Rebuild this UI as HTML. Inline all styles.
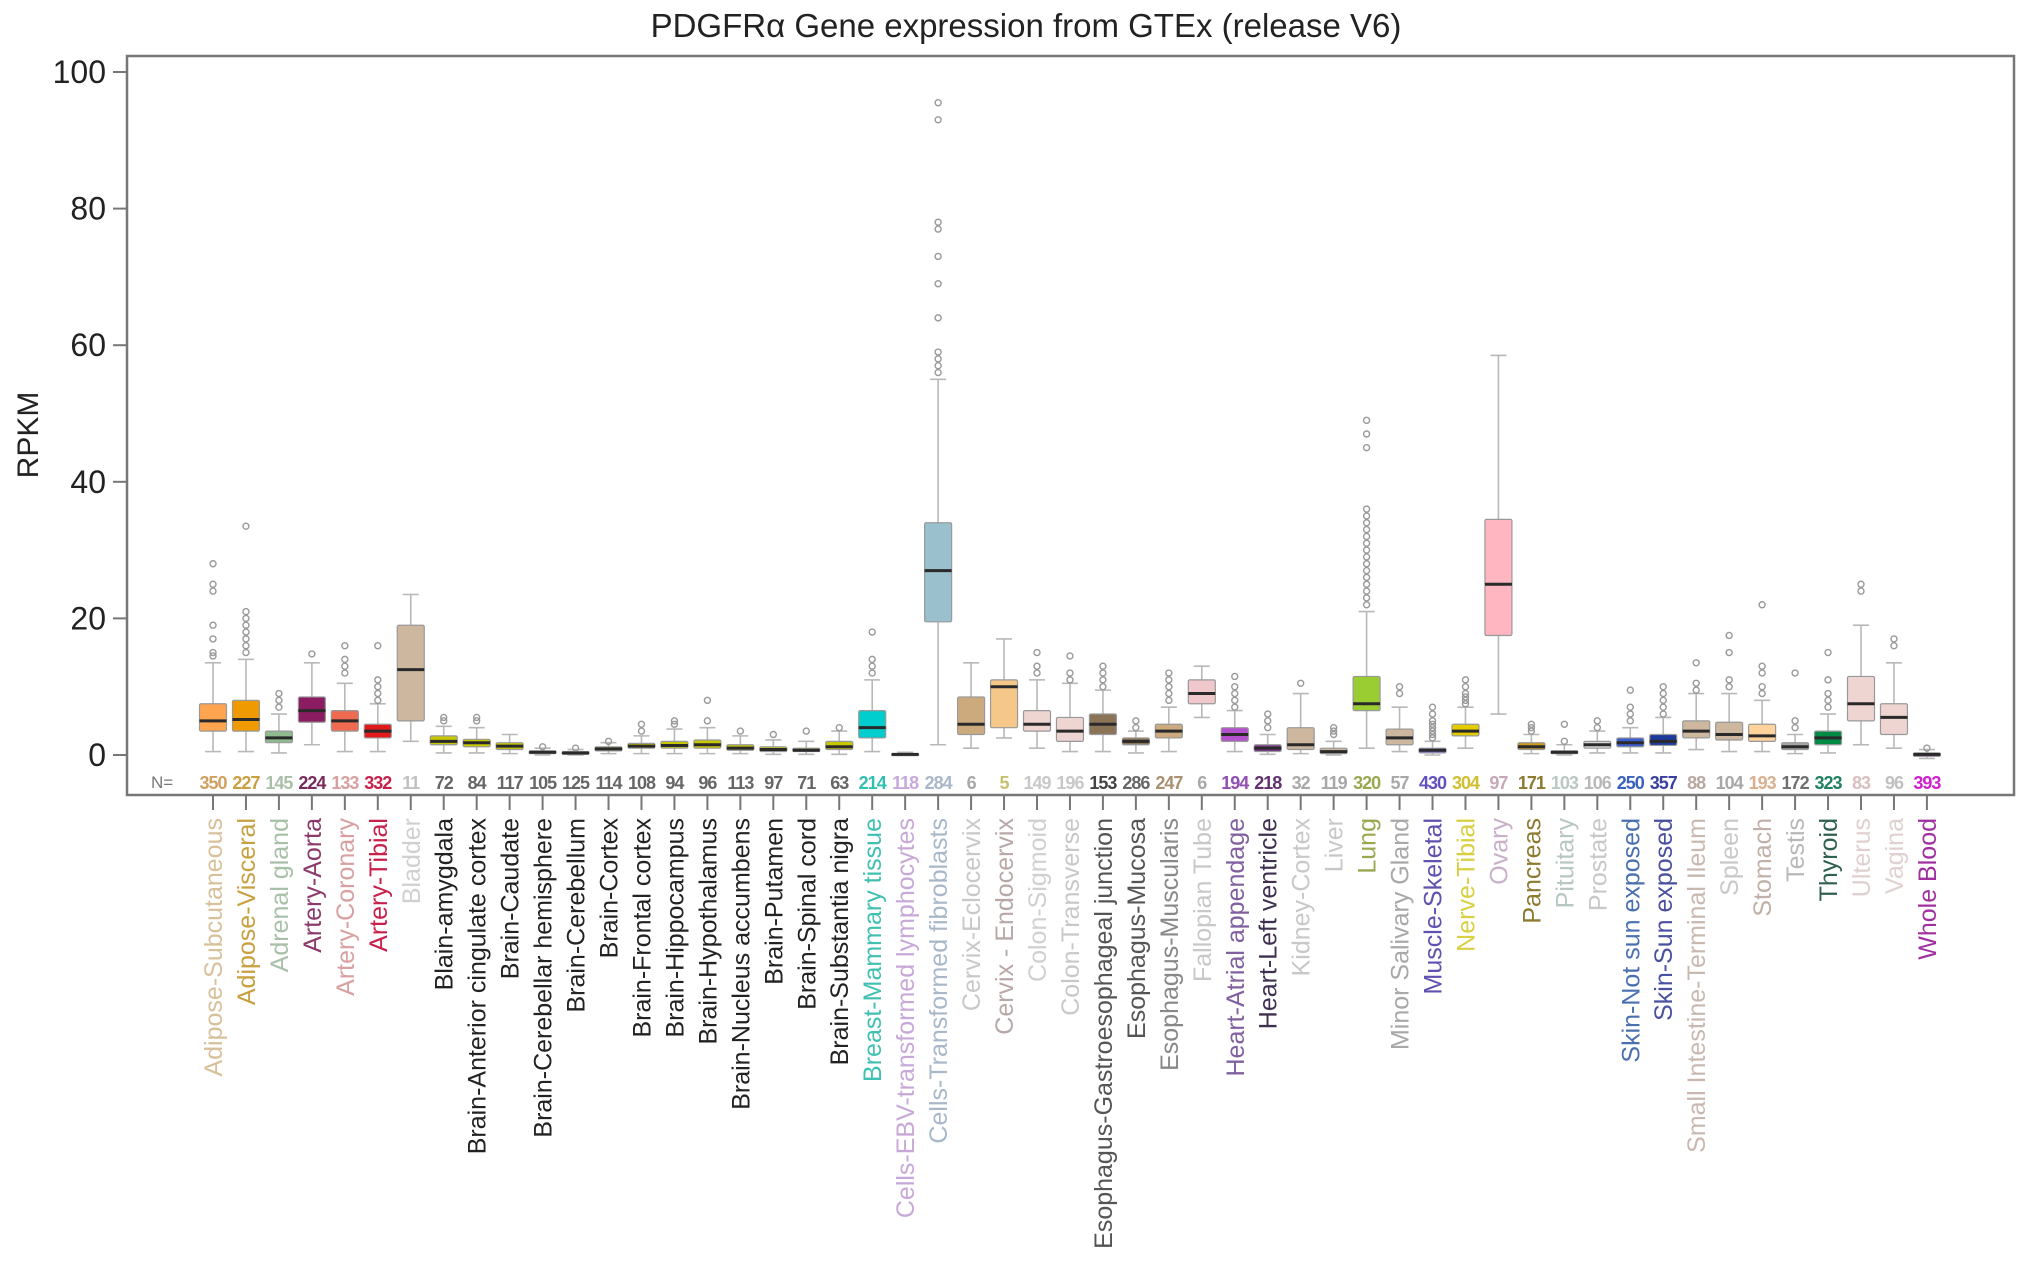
<!DOCTYPE html>
<html><head><meta charset="utf-8">
<style>
html,body{margin:0;padding:0;background:#fff;}
svg{display:block;font-family:"Liberation Sans",Arial,sans-serif;}
</style></head>
<body>
<svg id="chart" width="2032" height="1262" viewBox="0 0 2032 1262" xmlns="http://www.w3.org/2000/svg">
<rect x="0" y="0" width="2032" height="1262" fill="#ffffff"/>
<text x="1026" y="37" text-anchor="middle" font-size="33" fill="#222">PDGFRα Gene expression from GTEx (release V6)</text>
<text transform="translate(38,435) rotate(-90)" text-anchor="middle" font-size="30" fill="#222">RPKM</text>
<rect x="127" y="56" width="1887" height="739" fill="none" stroke="#777" stroke-width="2.5"/>
<text x="151" y="788" font-size="17" fill="#777">N=</text>
<g id="layer"></g>
</svg>
<script>
const tissues=["Adipose-Subcutaneous","Adipose-Visceral","Adrenal gland","Artery-Aorta","Artery-Coronary","Artery-Tibial","Bladder","Blain-amygdala","Brain-Anterior cingulate cortex","Brain-Caudate","Brain-Cerebellar hemisphere","Brain-Cerebellum","Brain-Cortex","Brain-Frontal cortex","Brain-Hippocampus","Brain-Hypothalamus","Brain-Nucleus accumbens","Brain-Putamen","Brain-Spinal cord","Brain-Substantia nigra","Breast-Mammary tissue","Cells-EBV-transformed lymphocytes","Cells-Transformed fibroblasts","Cervix-Eclocervix","Cervix - Endocervix","Colon-Sigmoid","Colon-Transverse","Esophagus-Gastroesophageal junction","Esophagus-Mucosa","Esophagus-Muscularis","Fallopian Tube","Heart-Atrial appendage","Heart-Left ventricle","Kidney-Cortex","Liver","Lung","Minor Salivary Gland","Muscle-Skeletal","Nerve-Tibial","Ovary","Pancreas","Pituitary","Prostate","Skin-Not sun exposed","Skin-Sun exposed","Small Intestine-Terminal Ileum","Spleen","Stomach","Testis","Thyroid","Ulterus","Vagina","Whole Blood"];
const counts=[350,227,145,224,133,332,11,72,84,117,105,125,114,108,94,96,113,97,71,63,214,118,284,6,5,149,196,153,286,247,6,194,218,32,119,320,57,430,304,97,171,103,106,250,357,88,104,193,172,323,83,96,393];
const q1=[3.5,3.5,1.8,4.8,3.5,2.5,5,1.5,1.2,0.8,0.2,0.1,0.6,1,1,1,0.7,0.5,0.5,0.8,2.5,0,19.5,3,4,3.5,2,3,1.5,2.5,7.5,2,0.5,0.8,0.2,6.5,1.5,0.3,2.8,17.5,0.8,0.2,1,1.2,1.4,2.5,2.2,2,0.8,1.5,5,3,-0.2];
const medians=[5,5.2,2.5,6.5,5,3.5,12.5,2,1.8,1.3,0.4,0.3,0.9,1.3,1.4,1.5,1,0.8,0.7,1.2,4,0.1,27,4.5,10,4.5,3.5,4.5,2,3.5,9,3,1,1.5,0.5,7.5,2.5,0.7,3.5,25,1.2,0.4,1.5,1.8,2,3.5,3,2.8,1.2,2.5,7.5,5.5,0.1];
const q3=[7.5,8,3.5,8.5,6.5,4.5,19,2.8,2.3,1.8,0.6,0.5,1.2,1.7,2,2.2,1.5,1.2,1,2,6.5,0.2,34,8.5,11,6.5,5.5,6,2.5,4.5,11,4,1.5,4,1,11.5,3.8,1,4.5,34.5,1.8,0.6,2,2.5,3,5,4.8,4.5,1.8,3.5,11.5,7.5,0.3];
const whiskerLow=[0.5,0.5,0.3,1.5,0.5,0.5,2,0.3,0.3,0.2,0,0,0.2,0.2,0.2,0.2,0.2,0.1,0.1,0.1,0.5,0,1.5,1,2.5,1,0.5,0.5,0.3,0.5,5.5,0.5,0.1,0.2,0,1,0.5,0,1,6,0.2,0,0.3,0.3,0.3,0.8,0.5,0.5,0.2,0.3,1.5,1,-0.5];
const whiskerHigh=[13.5,14,6,13.5,10.5,7.5,23.5,4.2,4,3,1,0.8,1.8,2.8,3.8,4,2.8,2.2,2,3.5,11,0.4,55,13.5,17,11,10.5,9.5,3.5,7,13,6.5,3,9,2,21,7,2,7,58.5,3,1.5,3.5,4,5.5,9,9,8,3,6,19,13.5,0.8];
const outliers=[[14.5,15,17,19,24,25,28],[15,16,17,18,19,20,21,33.5],[7,8,9],[14.8],[12,13,14,16],[8,9,10,11,16],[],[5,5.5],[5,5.5],[],[1.2],[1],[2],[3.5,4.5],[4.5,5],[5,8],[3.5],[3],[3.5],[4],[12,13,14,18],[],[56,57,58,59,64,69,73,77,78,93,95.5],[],[],[12,13,15],[11,12,14.5],[10,11,12,13],[4,5],[8,9,10,11,12],[],[7,8,9,10,11.5],[4,5,6],[10.5],[3,3.5,4],[22,23,24,25,26,27,28,29,30,31,32,33,34,35,36,45,47,49],[9,10],[2.5,3,3.5,4,4.5,5,6,7],[7.5,8,8.5,9,10,11],[],[3.5,4,4.5],[2,4.5],[4,5],[5,6,7,9.5],[6,7,8,9,10],[9.5,10.5,13.5],[10,11,15,17.5],[9,10,12,13,22],[4,5,12],[7,8,9,11,15],[24,25],[16,17],[1]];
const boxColors=["#FFA54F","#EE9A00","#8FBC8F","#8B1C62","#EE6A50","#E31A1C","#CDB79E","#C8C800","#C8C800","#C8C800","#C8C800","#C8C800","#C8C800","#C8C800","#C8C800","#C8C800","#C8C800","#C8C800","#C8C800","#C8C800","#00CDCD","#EE82EE","#9AC0CD","#CDAA7D","#F5C88A","#EED5D2","#EED5D2","#8B7355","#8B7355","#CDAA7D","#F0C8CC","#B452CD","#7A378B","#CDB79E","#CDB79E","#9ACD32","#CDB79E","#7A67EE","#E5CC00","#FFB6C1","#CD9B1D","#B4EEB4","#D9D9D9","#3A5FCD","#1C3A9A","#CDB79E","#CDB79E","#FFD39B","#A6A6A6","#008B45","#EED5D2","#EED5D2","#FF00FF"];
const labelColors=["#D8C09A","#C8A040","#A8C0A8","#8B3A6A","#D8A0A0","#C8204A","#D0D0D0","#222","#222","#222","#222","#222","#222","#222","#222","#222","#222","#222","#222","#222","#40C0B0","#C8A8D8","#A8B8C8","#C8C8C8","#B8A8A8","#D0D0D0","#C8C8C8","#555","#555","#888","#C8C8C8","#8060A0","#403050","#C8C8C8","#C8C8C8","#98A850","#A8A8A8","#6050B0","#D8D040","#C8B0C8","#8B7A30","#B8C8C0","#C8C8C8","#4A70B0","#4A50A0","#C8B8B0","#C8C8C8","#C0B0A8","#B8B8B8","#306050","#E0D0D0","#E0D0D0","#A030A0"];
const nColors=["#D0A060","#C8A040","#A8C0A8","#7A2A5A","#D8A0A0","#C8204A","#C0C0C0","#666","#666","#666","#666","#666","#666","#666","#666","#666","#666","#666","#666","#666","#30C0B0","#C8A8D8","#A8B8C8","#A8A8A8","#C8C070","#C8C8C8","#C8C8C8","#444","#666","#A89070","#A8A8A8","#9050B0","#603070","#A8A8A8","#A8A8A8","#98A850","#A8A8A8","#6050C0","#D0C030","#C8A8B8","#8B7A30","#B8C8C0","#B8B8B8","#3A60C0","#3A40A0","#B8A8A0","#A8A8A8","#D8B090","#707070","#208060","#D8C0C0","#C0C0C0","#D020D0"];
const yTicks=[0,20,40,60,80,100];

const NS="http://www.w3.org/2000/svg";
const layer=document.getElementById('layer');
const X0=213, DX=32.96, Y0=755, YS=6.83;
function xPos(i){return X0+i*DX;}
function yPos(v){return Y0-v*YS;}
function mk(tag,attrs){const e=document.createElementNS(NS,tag);for(const k in attrs)e.setAttribute(k,attrs[k]);layer.appendChild(e);return e;}

yTicks.forEach(v=>{
  const t=mk('line',{x1:113,x2:127,y1:yPos(v),y2:yPos(v),stroke:'#777','stroke-width':2});
  
  
  const l=mk('text',{x:106,y:yPos(v)+11,'text-anchor':'end','font-size':32,fill:'#222'});
  l.textContent=v;
  
  
});

tissues.forEach((name,i)=>{
  const x=xPos(i), hw=13.5, cw=8;
  const slug=name.toLowerCase().replace(/[^a-z0-9]+/g,'-');
  const g=document.createElementNS(NS,'g');layer.appendChild(g);
  
  
  function add(tag,attrs){const e=document.createElementNS(NS,tag);for(const k in attrs)e.setAttribute(k,attrs[k]);g.appendChild(e);return e;}
  add('line',{x1:x,x2:x,y1:yPos(whiskerLow[i]),y2:yPos(q1[i]),stroke:'#b8b8b8','stroke-width':1.6});
  add('line',{x1:x,x2:x,y1:yPos(q3[i]),y2:yPos(whiskerHigh[i]),stroke:'#b8b8b8','stroke-width':1.6});
  add('line',{x1:x-cw,x2:x+cw,y1:yPos(whiskerLow[i]),y2:yPos(whiskerLow[i]),stroke:'#b8b8b8','stroke-width':1.6});
  add('line',{x1:x-cw,x2:x+cw,y1:yPos(whiskerHigh[i]),y2:yPos(whiskerHigh[i]),stroke:'#b8b8b8','stroke-width':1.6});
  outliers[i].forEach(v=>{
    add('circle',{cx:x,cy:yPos(v),r:3,fill:'none',stroke:'#999','stroke-width':1.4});
  });
  const top=yPos(q3[i]), bot=yPos(q1[i]);
  add('rect',{x:x-hw,y:top,width:hw*2,height:Math.max(bot-top,2),fill:boxColors[i],stroke:'#999','stroke-width':1.2,rx:1.5});
  add('line',{x1:x-hw,x2:x+hw,y1:yPos(medians[i]),y2:yPos(medians[i]),stroke:'#2a2a2a','stroke-width':3});
  const n=mk('text',{x:x,y:789,'text-anchor':'middle','font-size':18,'font-weight':'600',fill:nColors[i],'letter-spacing':'-1'});
  n.textContent=counts[i];
  
  
  const tk=mk('line',{x1:x,x2:x,y1:795,y2:810,stroke:'#777','stroke-width':2});
  
  
  const lb=mk('text',{transform:'translate('+(x+9)+',818) rotate(-90)','text-anchor':'end','font-size':25,fill:labelColors[i]});
  lb.textContent=name;
  
  
});
</script>
</body></html>
